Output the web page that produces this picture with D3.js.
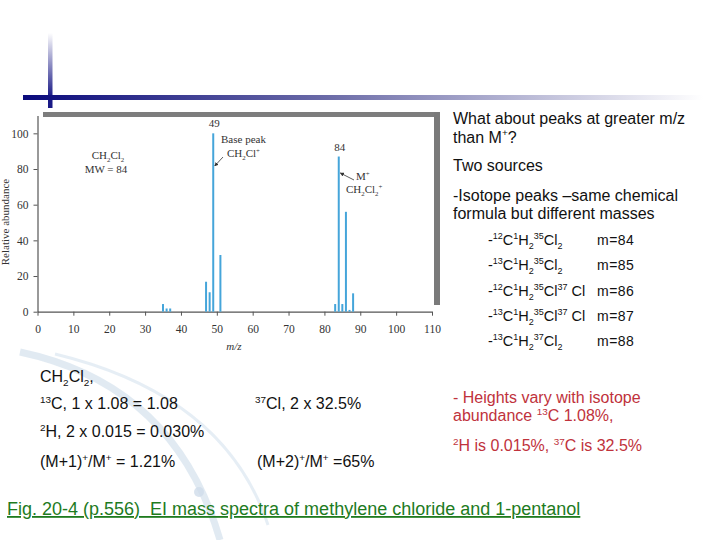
<!DOCTYPE html>
<html>
<head>
<meta charset="utf-8">
<script src="https://cdn.jsdelivr.net/npm/d3@7"></script>
<style>
  body { margin: 0; background: #fff; }
  svg { display: block; }
  .slide { font-family: "Liberation Sans", Arial, sans-serif; }
  .chartText { font-family: "Liberation Serif", "Times New Roman", serif; fill: #333; }
</style>
</head>
<body>
<div id="slide"></div>
<script>
// spectrum of CH2Cl2
var mzValues = [35, 36, 37, 47, 48, 49, 51, 83, 84, 85, 86, 87, 88];
var abundanceValues = [4.3, 1.8, 1.8, 16.8, 10.9, 100, 31.8, 4.3, 87, 4.3, 56, 1, 10.3];
var xTickValues = [0, 10, 20, 30, 40, 50, 60, 70, 80, 90, 100, 110];
var yTickValues = [0, 20, 40, 60, 80, 100];

var isotopeFormulas = [
    [["-", "n"], ["12", "sup"], ["C", "n"], ["1", "sup"], ["H", "n"], ["2", "sub"], ["35", "sup"], ["Cl", "n"], ["2", "sub"]],
    [["-", "n"], ["13", "sup"], ["C", "n"], ["1", "sup"], ["H", "n"], ["2", "sub"], ["35", "sup"], ["Cl", "n"], ["2", "sub"]],
    [["-", "n"], ["12", "sup"], ["C", "n"], ["1", "sup"], ["H", "n"], ["2", "sub"], ["35", "sup"], ["Cl", "n"], ["37", "sup"], [" Cl", "n"]],
    [["-", "n"], ["13", "sup"], ["C", "n"], ["1", "sup"], ["H", "n"], ["2", "sub"], ["35", "sup"], ["Cl", "n"], ["37", "sup"], [" Cl", "n"]],
    [["-", "n"], ["13", "sup"], ["C", "n"], ["1", "sup"], ["H", "n"], ["2", "sub"], ["37", "sup"], ["Cl", "n"], ["2", "sub"]]
];
var isotopeMasses = ["m=84", "m=85", "m=86", "m=87", "m=88"];

var svg = d3.select("#slide").append("svg")
    .attr("width", 720)
    .attr("height", 540)
    .attr("class", "slide");

var defs = svg.append("defs");

// write text with super/subscripts as tspans
function richText(sel, parts, size) {
    var small = size * 0.62;
    var shift = 0;
    parts.forEach(function(p) {
        var t = sel.append("tspan").text(p[0]);
        var target = 0;
        if (p[1] == "sup") target = -size * 0.38;
        if (p[1] == "sub") target = size * 0.25;
        t.attr("dy", target - shift);
        shift = target;
        if (p[1] != "n") t.attr("font-size", small);
    });
    return sel;
}

// ---- slide decoration ----
var hGrad = defs.append("linearGradient").attr("id", "hbar");
hGrad.append("stop").attr("offset", "0").attr("stop-color", "#0a0a7c");
hGrad.append("stop").attr("offset", "0.45").attr("stop-color", "#6c6ca8");
hGrad.append("stop").attr("offset", "1").attr("stop-color", "#ffffff");
var vGrad = defs.append("linearGradient").attr("id", "vbar")
    .attr("x1", 0).attr("y1", 0).attr("x2", 0).attr("y2", 1);
vGrad.append("stop").attr("offset", "0").attr("stop-color", "#ffffff");
vGrad.append("stop").attr("offset", "0.85").attr("stop-color", "#1a1a86");
vGrad.append("stop").attr("offset", "1").attr("stop-color", "#1a1a86");

// faint swoosh lower left
svg.append("path").attr("d", "M20,352 Q175,385 220,540")
    .attr("fill", "none").attr("stroke", "#c9d8e8").attr("stroke-width", 7).attr("opacity", 0.55);
svg.append("path").attr("d", "M55,354 Q225,395 268,525")
    .attr("fill", "none").attr("stroke", "#d6e2ee").attr("stroke-width", 3).attr("opacity", 0.6);
svg.append("circle").attr("cx", 199).attr("cy", 492).attr("r", 5)
    .attr("fill", "#d0dcea").attr("opacity", 0.8);

svg.append("rect").attr("x", 48).attr("y", 33).attr("width", 4.5).attr("height", 75)
    .attr("fill", "url(#vbar)");
svg.append("rect").attr("x", 23).attr("y", 95).attr("width", 680).attr("height", 5)
    .attr("fill", "url(#hbar)");

// ---- chart ----
var chartGroup = svg.append("g");

// grey shadow frame
chartGroup.append("rect").attr("x", 43).attr("y", 112).attr("width", 397).attr("height", 5)
    .attr("fill", "#7d7d7d");
chartGroup.append("rect").attr("x", 434).attr("y", 112).attr("width", 6).attr("height", 193)
    .attr("fill", "#7a7a7a");
chartGroup.append("rect").attr("x", 43).attr("y", 117).attr("width", 391).attr("height", 194)
    .attr("fill", "#fff");

var xScale = d3.scaleLinear().domain([0, 110]).range([37.5, 432]);
var yScale = d3.scaleLinear().domain([0, 110]).range([311.7, 115.5]);

var bottomAxis = d3.axisBottom(xScale).tickValues(xTickValues).tickSize(4).tickSizeOuter(0).tickPadding(9);
var leftAxis = d3.axisLeft(yScale).tickValues(yTickValues).tickSize(4).tickSizeOuter(0).tickPadding(5);

var xAxisG = chartGroup.append("g")
    .attr("transform", "translate(0," + yScale(0) + ")")
    .call(bottomAxis);
var yAxisG = chartGroup.append("g")
    .attr("transform", "translate(" + xScale(0) + ",0)")
    .call(leftAxis);

[xAxisG, yAxisG].forEach(function(g) {
    g.select(".domain").attr("stroke", "#555").attr("stroke-width", 1.2);
    g.selectAll(".tick line").attr("stroke", "#555");
    g.selectAll("text").attr("class", "chartText").attr("font-size", 11.5).attr("fill", "#333");
});

var peaks = mzValues.map(function(m, i) { return { mz: m, ab: abundanceValues[i] }; });

chartGroup.selectAll(".peak")
    .data(peaks)
    .enter()
    .append("line")
    .attr("class", "peak")
    .attr("x1", d => xScale(d.mz))
    .attr("x2", d => xScale(d.mz))
    .attr("y1", yScale(0))
    .attr("y2", d => yScale(d.ab))
    .attr("stroke", "#45a5da")
    .attr("stroke-width", 2);

// labels inside the chart
function chartLabel(x, y, parts, anchor, italic) {
    var t = chartGroup.append("text")
        .attr("class", "chartText")
        .attr("x", x).attr("y", y)
        .attr("font-size", 11)
        .attr("text-anchor", anchor || "start");
    if (italic) t.attr("font-style", "italic");
    return richText(t, parts, 11);
}

chartLabel(xScale(49) + 1, yScale(100) - 6, [["49", "n"]], "middle");
chartLabel(221, 143, [["Base peak", "n"]]);
chartLabel(227, 157, [["CH", "n"], ["2", "sub"], ["Cl", "n"], ["+", "sup"]]);
chartLabel(xScale(84) + 1, yScale(87) - 6, [["84", "n"]], "middle");
chartLabel(356, 180, [["M", "n"], ["+", "sup"]]);
chartLabel(346, 193, [["CH", "n"], ["2", "sub"], ["Cl", "n"], ["2", "sub"], ["+", "sup"]]);
chartLabel(108, 159, [["CH", "n"], ["2", "sub"], ["Cl", "n"], ["2", "sub"]], "middle");
chartLabel(106, 173, [["MW = 84", "n"]], "middle");
chartLabel(234, 350, [["m/z", "n"]], "middle", true);

chartGroup.append("text")
    .attr("class", "chartText")
    .attr("transform", "translate(9,222) rotate(-90)")
    .attr("text-anchor", "middle")
    .attr("font-size", 11)
    .text("Relative abundance");

// little arrows to the labelled peaks
defs.append("marker").attr("id", "ah").attr("viewBox", "0 0 10 10")
    .attr("refX", 9).attr("refY", 5).attr("markerWidth", 5).attr("markerHeight", 5)
    .attr("orient", "auto")
    .append("path").attr("d", "M0,0 L10,5 L0,10 z").attr("fill", "#333");
chartGroup.append("line").attr("x1", 223).attr("y1", 157).attr("x2", xScale(49) + 1.5).attr("y2", 166)
    .attr("stroke", "#333").attr("stroke-width", 0.8).attr("marker-end", "url(#ah)");
chartGroup.append("line").attr("x1", 354).attr("y1", 180).attr("x2", xScale(84) + 1.5).attr("y2", 173)
    .attr("stroke", "#333").attr("stroke-width", 0.8).attr("marker-end", "url(#ah)");

// ---- right column text ----
var rightLines = [
    ["What about peaks at greater m/z", 124],
    ["than M+?", 142.5],
    ["Two sources", 171],
    ["-Isotope peaks \u2013same chemical", 201],
    ["formula but different masses", 219]
];
rightLines.forEach(function(l) {
    var t = svg.append("text").attr("x", 453).attr("y", l[1]).attr("font-size", 16).attr("fill", "#111");
    if (l[0] == "than M+?") richText(t, [["than M", "n"], ["+", "sup"], ["?", "n"]], 16);
    else t.text(l[0]);
});

var rowY = [245, 270, 296, 321, 346];
isotopeFormulas.forEach(function(f, i) {
    richText(svg.append("text").attr("x", 488).attr("y", rowY[i]).attr("font-size", 14.5).attr("fill", "#111"), f, 14.5);
    svg.append("text").attr("x", 597).attr("y", rowY[i]).attr("font-size", 14).attr("fill", "#111")
        .attr("letter-spacing", 0.5).text(isotopeMasses[i]);
});

// ---- bottom text ----
function line(x, y, parts, color, size) {
    return richText(svg.append("text").attr("x", x).attr("y", y)
        .attr("font-size", size || 16).attr("fill", color || "#111"), parts, size || 16);
}
line(40, 382, [["CH", "n"], ["2", "sub"], ["Cl", "n"], ["2", "sub"], [",", "n"]]);
line(40, 409, [["13", "sup"], ["C, 1 x 1.08 = 1.08", "n"]]);
line(255, 409, [["37", "sup"], ["Cl, 2 x 32.5%", "n"]]);
line(40, 437, [["2", "sup"], ["H, 2 x 0.015 = 0.030%", "n"]]);
line(40, 467, [["(M+1)", "n"], ["+", "sup"], ["/M", "n"], ["+", "sup"], [" = 1.21%", "n"]]);
line(257, 467, [["(M+2)", "n"], ["+", "sup"], ["/M", "n"], ["+", "sup"], [" =65%", "n"]]);

var red = "#c0323c";
line(453, 403, [["- Heights vary with isotope", "n"]], red, 16);
line(453, 421, [["abundance ", "n"], ["13", "sup"], ["C 1.08%,", "n"]], red, 16);
line(453, 451, [["2", "sup"], ["H is 0.015%, ", "n"], ["37", "sup"], ["C is 32.5%", "n"]], red, 16);

svg.append("text").attr("x", 7).attr("y", 515)
    .attr("font-size", 18).attr("fill", "#1e7b1e")
    .attr("text-decoration", "underline")
    .attr("xml:space", "preserve")
    .style("white-space", "pre")
    .text("Fig. 20-4 (p.556)  EI mass spectra of methylene chloride and 1-pentanol");
</script>
</body>
</html>
